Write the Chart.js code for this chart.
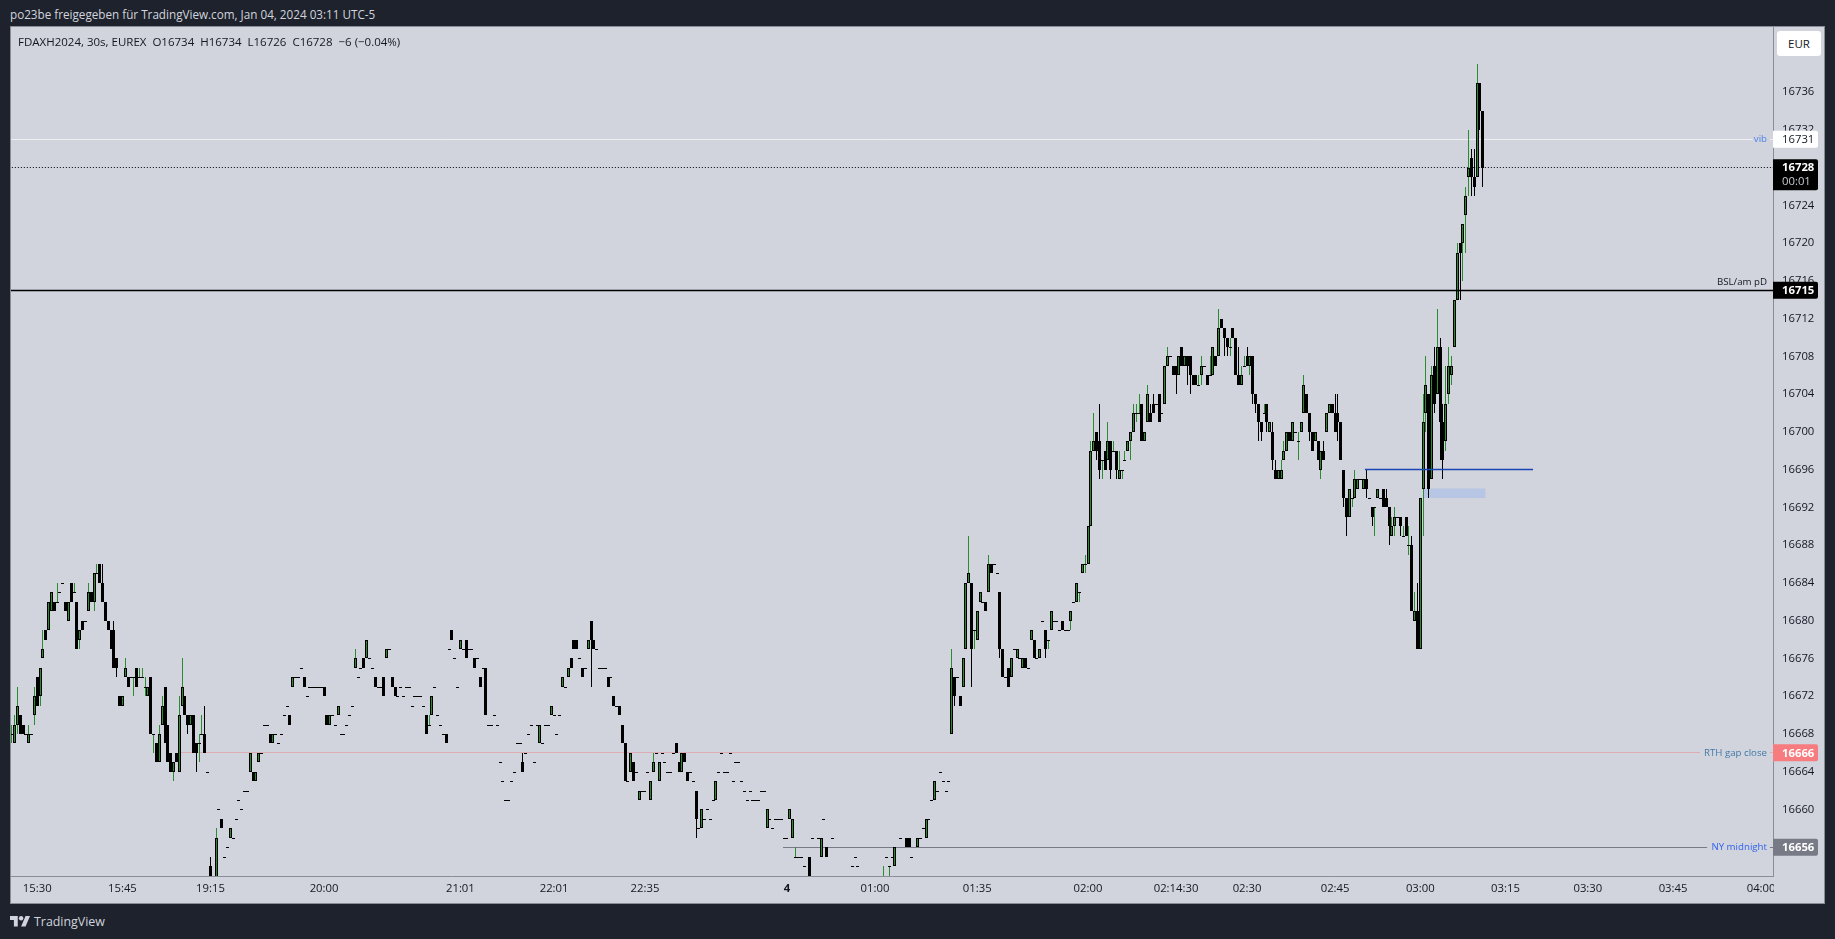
<!DOCTYPE html>
<html>
<head>
<meta charset="utf-8">
<title>FDAXH2024</title>
<script src="https://cdn.jsdelivr.net/npm/chart.js@4"></script>
<style>
  html, body { margin: 0; padding: 0; width: 1835px; height: 939px; overflow: hidden; background: #1e222d; font-family: "Open Sans", sans-serif; }
  #kopf { position: absolute; left: 10px; top: 6px; font-size: 11.7px; line-height: 16px; color: #d1d4dc; white-space: pre; }
  #rahmen { position: absolute; left: 11px; top: 27px; width: 1813px; height: 876px; background: #d1d4dc; outline: 1px solid #8a8d96; }
  #legende { position: absolute; left: 18px; top: 34px; font-size: 11.5px; line-height: 16px; color: #131722; white-space: pre; }
  #waehrung { position: absolute; left: 1777px; top: 31px; width: 44px; height: 25px; line-height: 25px; text-align: center; font-size: 11.5px; color: #131722; background: #fff; border-radius: 3px; }
  #marke { position: absolute; left: 10px; top: 912px; height: 18px; display: flex; align-items: center; font-size: 12.4px; color: #d1d4dc; }
  #marke svg { margin-right: 4px; }
</style>
</head>
<body>
<div id="kopf">po23be freigegeben für TradingView.com, Jan 04, 2024 03:11 UTC-5</div>
<div id="rahmen"><canvas id="grafica"></canvas></div>
<div id="legende">FDAXH2024, 30s, EUREX  O16734  H16734  L16726  C16728  −6 (−0.04%)</div>
<div id="waehrung">EUR</div>
<div id="marke">
  <svg width="20" height="12" viewBox="0 0 36 20"><path fill="#d1d4dc" d="M14 20H7V8H0V1h14v19zM28 20h-8L28 1h8l-8 19z"/><circle cx="20" cy="5" r="4" fill="#d1d4dc"/></svg>
  <span>TradingView</span>
</div>

<script>
// prices are stored as points above this base
const priceBase = 16600;

const opens = [
  68,67,69,70,69,68,67,68,70,74, 72,76,79,79,81,82,82,83,84,82,
  80,84,83,82,78,80,80,81,83,82, 85,86,84,82,80,79,79,76,72,71,
  74,74,74,74,75,74,74,73,72,74, 68,67,65,69,73,69,66,64,66,64,
  71,72,70,69,70,67,67,68,68,64, 54,null,52,60,59,55,56,57,57,59,
  61,60,62,62,64,64,63,65,66,69, 69,68,67,68,67,68,70,71,70,73,
  74,74,75,74,72,73,73,73,73,73, 73,70,69,70,69,70,68,68,69,70,
  71,75,74,75,76,76,76,75,74,73, 73,74,76,77,74,73,72,73,72,73,
  73,71,72,72,72,71,70,69,70,73, 70,69,68,68,77,79,76,73,77,77,
  78,77,77,76,76,74,75,75,69,69, 70,69,65,63,61,61,63,64,67,67,
  65,66,68,69,65,69,67,67,69,69, 70,70,68,70,73,73,74,76,78,78,
  76,75,75,77,80,78,77,75,75,75, 74,74,72,71,71,69,67,63,64,65,
  64,61,62,62,64,61,64,66,63,66, 65,64,64,66,67,65,64,66,64,64,
  63,62,58,58,59,60,59,61,61,64, 66,64,64,66,63,65,65,63,62,61,
  62,61,61,61,62,62,58,59,58,59, 59,59,57,57,59,57,55,55,55,54,
  null,55,57,null,57,55,59,56,null,57, null,null,null,null,null,null,54,55,54,null,
  null,null,null,null,null,null,null,53,55,54, 55,54,null,57,null,57,57,55,null,56,
  57,58,57,59,61,61,62,64,63,62, 63,68,74,74,72,73,77,84,84,79,
  78,82,82,82,83,86,86,85,83,77, 74,75,74,77,76,76,75,76,75,78,
  78,76,76,80,79,78,79,80,80,79, 80,79,79,80,82,82,83,85,86,86,
  90,98,100,99,97,98,97,99,98,98, 95,96,97,98,99,100,102,102,103,99,
  101,102,103,103,104,102,103,107,108,107, 107,106,109,107,108,108,106,106,105,106,
  107,106,106,106,108,108,112,111,110,109, 111,110,106,105,107,108,107,108,104,103,
  101,102,103,100,100,96,95,95,97,98, 100,99,100,99,100,102,104,102,100,99,
  99,96,98,100,102,103,102,102,101,96, 93,91,93,93,94,95,94,95,93,92,
  92,93,93,94,93,92,89,90,91,91, 89,91,88,88,80,81,77,94,102,104,
  95,107,104,109,101,99,104,106,109,114, 120,120,123,127,129,127,127,137,134
];

const closes = [
  68,69,71,68,68,68,68,68,72,71, 75,77,78,82,83,81,82,83,84,81,
  82,82,83,77,79,79,80,83,82,85, 85,84,82,80,79,77,75,75,71,72,
  75,73,74,74,73,74,74,73,73,68, 68,65,68,71,67,65,64,65,65,70,
  73,70,69,70,66,66,67,68,66,64, 52,null,57,60,58,55,56,58,57,59,
  61,60,62,62,66,63,64,66,66,69, 69,67,68,68,67,68,70,71,69,74,
  74,74,75,73,72,73,73,73,73,73, 72,69,70,70,69,71,68,68,69,70,
  71,76,74,75,75,78,76,75,73,73, 73,72,77,77,73,72,72,73,72,73,
  73,71,72,72,72,71,68,69,72,73, 70,69,68,67,77,78,76,73,78,77,
  76,77,77,75,76,73,75,70,69,69, 70,69,65,63,61,61,63,64,67,67,
  64,66,68,69,65,69,69,67,69,69, 71,70,68,70,74,73,75,75,77,77,
  76,74,75,78,78,77,77,75,75,75, 73,74,71,71,70,67,63,63,66,63,
  64,62,62,62,64,63,65,66,65,66, 65,64,64,66,66,64,66,65,63,64,
  63,59,58,60,59,60,59,61,63,64, 66,64,64,66,63,65,65,63,62,61,
  62,61,61,61,62,62,60,59,58,59, 59,59,57,57,60,59,55,55,55,54,
  null,53,57,null,57,57,59,55,null,57, null,null,null,null,null,null,54,55,54,null,
  null,null,null,null,null,null,null,53,55,54, 55,56,null,57,null,56,56,55,null,57,
  57,58,59,59,61,63,62,64,63,62, 63,75,72,74,71,76,84,85,77,79,
  81,83,82,81,86,85,86,85,77,74, 74,73,76,77,77,76,76,75,75,79,
  76,76,77,80,77,78,81,80,80,79, 79,79,79,81,82,84,83,86,86,90,
  98,99,98,96,97,96,99,96,98,96, 96,96,97,99,100,102,102,102,99,100,
  104,101,102,103,101,102,107,108,108,106, 106,108,107,108,107,106,105,105,105,107,
  107,105,106,109,107,111,111,110,109,109, 110,106,105,106,107,107,108,104,103,101,
  100,102,101,101,97,95,96,96,98,100, 99,101,100,99,101,105,102,100,98,100,
  97,98,97,102,103,102,100,101,97,93, 91,94,93,95,95,95,95,94,93,91,
  92,94,93,92,92,90,90,91,91,90, 89,89,88,81,81,77,93,101,105,94,
  106,103,109,101,97,103,107,107,114,119, 119,122,125,128,127,126,137,134,128
];

const highs = [
  69,70,73,70,69,68,69,68,73,74, 75,79,79,82,83,82,84,83,84,82,
  82,84,84,82,79,80,80,84,83,85, 86,86,86,82,80,79,80,76,72,72,
  76,74,74,74,75,75,75,74,73,74, 68,67,69,72,73,69,66,65,66,72,
  76,72,70,70,70,67,68,70,71,64, 55,null,58,60,59,55,56,58,57,59,
  61,60,62,62,66,64,64,66,66,69, 69,68,68,68,67,68,70,71,70,74,
  74,74,75,74,72,73,73,73,73,73, 73,70,70,70,69,71,68,68,69,70,
  71,77,74,75,76,78,76,75,74,73, 73,74,77,77,74,73,72,73,72,73,
  73,71,72,72,72,71,70,70,72,73, 70,69,68,68,77,79,76,73,78,77,
  78,77,77,76,76,74,75,75,69,69, 70,69,65,63,61,61,63,64,67,67,
  66,66,68,69,65,69,69,67,69,69, 71,70,68,70,74,73,75,76,78,78,
  76,75,75,78,80,78,77,75,75,75, 74,74,72,71,71,69,67,63,66,65,
  64,62,62,62,64,63,66,66,65,66, 65,64,64,66,67,65,66,66,64,64,
  63,62,58,60,59,60,59,61,63,64, 66,64,64,66,63,65,65,63,62,61,
  62,61,61,61,62,62,60,59,58,59, 59,59,57,57,60,59,56,55,55,54,
  null,55,57,null,57,57,59,56,null,57, null,null,null,null,null,null,54,55,54,null,
  null,null,null,null,null,null,null,54,55,54, 55,56,null,57,null,57,57,55,null,57,
  57,58,59,59,61,63,62,64,63,62, 63,77,74,74,72,76,84,89,84,79,
  81,83,82,82,87,86,86,85,83,77, 74,75,76,77,77,76,76,76,75,79,
  78,76,77,80,79,78,81,80,80,79, 80,79,79,81,82,84,83,86,87,90,
  99,102,100,103,97,98,101,99,99,98, 98,96,98,99,100,103,103,104,103,100,
  105,103,104,103,104,102,107,109,108,107, 107,108,109,108,108,108,106,106,106,108,
  107,106,108,109,108,113,112,111,110,110, 111,110,109,107,108,109,108,108,104,103,
  101,103,103,101,101,97,96,97,99,100, 100,101,100,100,101,106,104,102,100,100,
  99,98,99,102,103,103,104,104,101,96, 93,94,93,96,95,95,95,96,93,92,
  92,94,93,94,94,92,91,92,91,91, 90,91,90,89,83,84,93,104,108,104,
  107,109,113,110,103,107,109,108,114,120, 120,122,126,132,130,130,139,137,134
];

const lows = [
  67,67,68,68,68,68,67,68,69,71, 71,76,78,79,81,81,82,83,84,81,
  80,82,83,77,77,79,80,81,82,81, 85,84,82,80,79,77,75,74,71,71,
  74,73,74,72,73,74,74,72,72,68, 66,65,65,69,67,65,64,63,65,64,
  71,70,68,69,66,64,65,68,66,64, 52,null,52,60,58,55,56,57,57,59,
  61,60,62,62,64,63,63,65,66,69, 69,67,67,68,67,68,70,71,69,73,
  74,74,75,73,72,73,73,73,73,73, 72,69,69,70,69,70,68,68,69,70,
  71,75,74,75,75,76,76,75,73,73, 73,72,76,77,73,72,72,73,72,73,
  73,71,72,72,72,71,68,69,70,73, 70,69,68,67,77,78,76,73,77,77,
  76,77,77,75,76,73,75,70,69,69, 70,69,65,63,61,61,63,64,67,67,
  64,66,68,69,65,69,67,67,69,69, 70,70,68,70,73,73,74,75,77,77,
  76,74,75,77,73,77,77,75,75,75, 73,74,71,71,70,67,63,63,64,63,
  64,61,62,62,64,61,64,66,63,66, 65,64,64,66,66,64,64,65,63,64,
  63,57,58,58,59,60,59,61,61,64, 66,64,64,66,63,65,65,63,62,61,
  62,61,61,61,62,62,58,59,58,59, 59,59,57,57,59,57,55,55,55,54,
  null,53,57,null,57,55,59,55,null,57, null,null,null,null,null,null,54,55,54,null,
  null,null,null,null,null,null,null,53,55,53, 55,54,null,57,null,56,56,55,null,56,
  57,58,57,59,61,61,62,64,63,62, 63,68,71,74,71,73,77,84,73,77,
  78,82,82,81,83,85,86,85,76,74, 74,73,74,77,76,76,75,75,75,78,
  76,76,76,80,76,77,79,80,80,79, 79,79,79,79,82,82,82,85,85,86,
  90,98,97,95,95,96,97,95,98,95, 95,95,97,98,97,100,101,102,99,99,
  101,101,102,103,101,102,103,107,108,106, 104,106,107,107,105,104,105,105,105,105,
  107,105,106,106,107,108,111,108,108,108, 110,106,105,105,107,107,106,103,102,99,
  99,102,100,100,96,95,95,95,97,98, 99,99,100,97,100,102,102,99,98,99,
  97,95,97,100,102,102,100,99,97,92, 89,91,92,93,94,95,94,93,93,90,
  89,93,93,92,92,88,89,89,91,89, 89,89,87,81,80,77,77,89,100,93,
  95,102,104,97,95,98,103,105,109,114, 114,116,119,125,125,125,127,132,126
];

// time axis: bar slot of each label
const timeTickBars = [9, 39, 70, 110, 158, 191, 223, 273, 304, 340, 379, 410, 435, 466, 496, 526, 555, 585, 616];
const timeTickLabels = ['15:30', '15:45', '19:15', '20:00', '21:01', '22:01', '22:35', '4', '01:00', '01:35', '02:00', '02:14:30', '02:30', '02:45', '03:00', '03:15', '03:30', '03:45', '04:00'];

const priceTicks = [16660, 16664, 16668, 16672, 16676, 16680, 16684, 16688, 16692, 16696, 16700, 16704, 16708, 16712, 16716, 16720, 16724, 16728, 16732, 16736];

// drawn levels
const vibPrice = 16731;
const lastPrice = 16728;
const bslPrice = 16715;
const gapPrice = 16666;
const midnightPrice = 16656;
const orderBlockLine = 16696;
const orderBlockTop = 16694;
const orderBlockBottom = 16693;
const countdown = '00:01';

function construirSeries() {
    const series = { cuerpoAlza: [], cuerpoBaja: [], guion: [], mechaAlza: [], mechaBaja: [] };
    opens.forEach((o, i) => {
        if (o === null) return;
        const abre = priceBase + o;
        const cierra = priceBase + closes[i];
        const alto = priceBase + highs[i];
        const bajo = priceBase + lows[i];
        if (alto !== bajo) {
            (cierra >= abre ? series.mechaAlza : series.mechaBaja).push({ x: i, y: [bajo, alto] });
        }
        if (abre === cierra) {
            series.guion.push({ x: i, y: [abre, cierra] });
        } else if (cierra > abre) {
            series.cuerpoAlza.push({ x: i, y: [abre, cierra] });
        } else {
            series.cuerpoBaja.push({ x: i, y: [cierra, abre] });
        }
    });
    return series;
}

function nivel(precio, desde, hasta, color, orden, guiones, ancho) {
    return {
        type: 'line',
        data: [{ x: desde, y: precio }, { x: hasta, y: precio }],
        borderColor: color,
        borderWidth: ancho || 1,
        borderDash: guiones || [],
        pointRadius: 0,
        order: orden
    };
}

// snap bars and level lines to whole pixels so they stay crisp like the original
const ajustePixel = {
    id: 'ajustePixel',
    afterDatasetsUpdate(chart) {
        chart.data.datasets.forEach((d, i) => {
            chart.getDatasetMeta(i).data.forEach(el => {
                if (d.type === 'bar') {
                    const arriba = Math.round(Math.min(el.y, el.base));
                    let abajo = Math.round(Math.max(el.y, el.base));
                    if (abajo <= arriba) abajo = arriba + 1;
                    el.x = Math.floor(el.x) + 0.5;
                    el.y = arriba;
                    el.base = abajo;
                    el.height = abajo - arriba;
                } else if (!d.fill) {
                    el.y = Math.floor(el.y) + 0.5;
                }
            });
        });
    }
};

const etiquetas = {
    id: 'etiquetas',
    afterDraw(chart) {
        const ctx = chart.ctx;
        const area = chart.chartArea;
        const y = chart.scales.y;
        const fuente = '11.3px "Open Sans"';
        const negrita = 'bold 11.3px "Open Sans"';

        function caja(precio, fondo, color, font) {
            const py = y.getPixelForValue(precio);
            ctx.fillStyle = fondo;
            ctx.beginPath();
            ctx.roundRect(area.right, py - 8.5, 45, 17, [0, 2, 2, 0]);
            ctx.fill();
            ctx.fillStyle = color;
            ctx.font = font;
            ctx.textAlign = 'left';
            ctx.textBaseline = 'middle';
            ctx.fillText(String(precio), area.right + 9, py + 0.5);
        }
        function rotulo(texto, precio, color, subir) {
            ctx.font = '9.7px "Open Sans"';
            ctx.fillStyle = color;
            ctx.textAlign = 'right';
            ctx.textBaseline = 'middle';
            ctx.fillText(texto, area.right - 6, y.getPixelForValue(precio) - subir);
        }

        ctx.save();
        // the 04:00 label is cut by the price axis
        ctx.fillStyle = '#d1d4dc';
        ctx.fillRect(area.right + 1, area.bottom + 1, 10, 26);

        caja(vibPrice, '#ffffff', '#131722', fuente);
        caja(bslPrice, '#000000', '#ffffff', negrita);
        caja(gapPrice, '#f77c80', '#ffffff', negrita);
        caja(midnightPrice, '#787b86', '#ffffff', negrita);

        const py = y.getPixelForValue(lastPrice);
        ctx.fillStyle = '#000000';
        ctx.beginPath();
        ctx.roundRect(area.right, py - 8.5, 45, 31, [0, 2, 2, 0]);
        ctx.fill();
        ctx.fillStyle = '#ffffff';
        ctx.font = negrita;
        ctx.textAlign = 'left';
        ctx.textBaseline = 'middle';
        ctx.fillText(String(lastPrice), area.right + 9, py + 0.5);
        ctx.fillStyle = '#c8cad2';
        ctx.font = fuente;
        ctx.fillText(countdown, area.right + 9, py + 14.5);

        rotulo('vib', vibPrice, '#4f82ee', 0);
        rotulo('BSL/am pD', bslPrice, '#131722', 8);
        rotulo('RTH gap close', gapPrice, '#4079a8', 0);
        rotulo('NY midnight', midnightPrice, '#2f62ee', 0);
        ctx.restore();
    }
};

document.addEventListener('DOMContentLoaded', function() {
    const s = construirSeries();
    const ctx = document.getElementById('grafica').getContext('2d');

    const colorAlza = '#2a8c2f';
    const colorVela = '#000000';
    const colaNivel = [619.1, 620.2];

    new Chart(ctx, {
        type: 'bar',
        data: {
            datasets: [
                // order block box and levels behind the candles
                {
                    type: 'line',
                    data: [{ x: 497, y: orderBlockTop }, { x: 519, y: orderBlockTop }],
                    borderWidth: 0,
                    pointRadius: 0,
                    backgroundColor: '#b7c6e4',
                    fill: { value: orderBlockBottom },
                    order: 9
                },
                nivel(gapPrice, 58.6, 594.5, '#dcadb2', 8),
                nivel(gapPrice, colaNivel[0], colaNivel[1], '#dcadb2', 8),
                nivel(midnightPrice, 271.6, 597, '#787b86', 8),
                nivel(midnightPrice, colaNivel[0], colaNivel[1], '#787b86', 8),
                nivel(vibPrice, -1, 613, '#eeeff2', 8),
                nivel(vibPrice, colaNivel[0], colaNivel[1], '#eeeff2', 8),
                { type: 'bar', data: s.mechaAlza, backgroundColor: colorAlza, barThickness: 1, order: 5 },
                { type: 'bar', data: s.mechaBaja, backgroundColor: colorVela, barThickness: 1, order: 5 },
                { type: 'bar', data: s.cuerpoAlza, backgroundColor: colorAlza, borderColor: colorVela, borderWidth: 1, borderSkipped: false, barThickness: 3, order: 4 },
                { type: 'bar', data: s.cuerpoBaja, backgroundColor: colorVela, barThickness: 3, order: 4 },
                { type: 'bar', data: s.guion, backgroundColor: colorVela, barThickness: 3, order: 3 },
                nivel(lastPrice, -1, 621, '#000000', 2, [1, 2]),
                nivel(bslPrice, -1, 621, '#000000', 2, [], 1.5),
                nivel(orderBlockLine, 476.5, 535.7, '#1b45b4', 2, [], 1.5)
            ]
        },
        options: {
            responsive: true,
            maintainAspectRatio: false,
            animation: false,
            events: [],
            layout: { padding: 0 },
            datasets: { bar: { grouped: false, inflateAmount: 0 } },
            plugins: {
                legend: { display: false },
                title: { display: false },
                tooltip: { enabled: false }
            },
            scales: {
                x: {
                    type: 'linear',
                    offset: false,
                    min: -0.236,
                    max: 620.2,
                    grid: { display: false, drawTicks: false },
                    border: { display: true, color: '#8a8d96', width: 1 },
                    afterBuildTicks: function(scale) {
                        scale.ticks = timeTickBars.map(v => ({ value: v }));
                    },
                    afterFit: function(scale) {
                        scale.height = 27;
                        scale.paddingLeft = 0;
                        scale.paddingRight = 0;
                    },
                    ticks: {
                        autoSkip: false,
                        maxRotation: 0,
                        padding: 6,
                        color: '#131722',
                        font: function(c) {
                            return {
                                family: '"Open Sans"',
                                size: 11.3,
                                weight: c.tick && c.tick.value === 273 ? 'bold' : 'normal'
                            };
                        },
                        callback: function(valor) {
                            return timeTickLabels[timeTickBars.indexOf(valor)];
                        }
                    }
                },
                y: {
                    type: 'linear',
                    position: 'right',
                    min: 16652.95,
                    max: 16742.9,
                    grid: { display: false, drawTicks: false },
                    border: { display: true, color: '#8a8d96', width: 1 },
                    afterBuildTicks: function(scale) {
                        scale.ticks = priceTicks.map(v => ({ value: v }));
                    },
                    afterFit: function(scale) {
                        scale.width = 51;
                        scale.paddingTop = 0;
                        scale.paddingBottom = 0;
                    },
                    ticks: {
                        padding: 9,
                        color: '#131722',
                        font: { family: '"Open Sans"', size: 11.3 },
                        callback: function(valor) {
                            return String(valor);
                        }
                    }
                }
            }
        },
        plugins: [ajustePixel, etiquetas]
    });
});
</script>
</body>
</html>
